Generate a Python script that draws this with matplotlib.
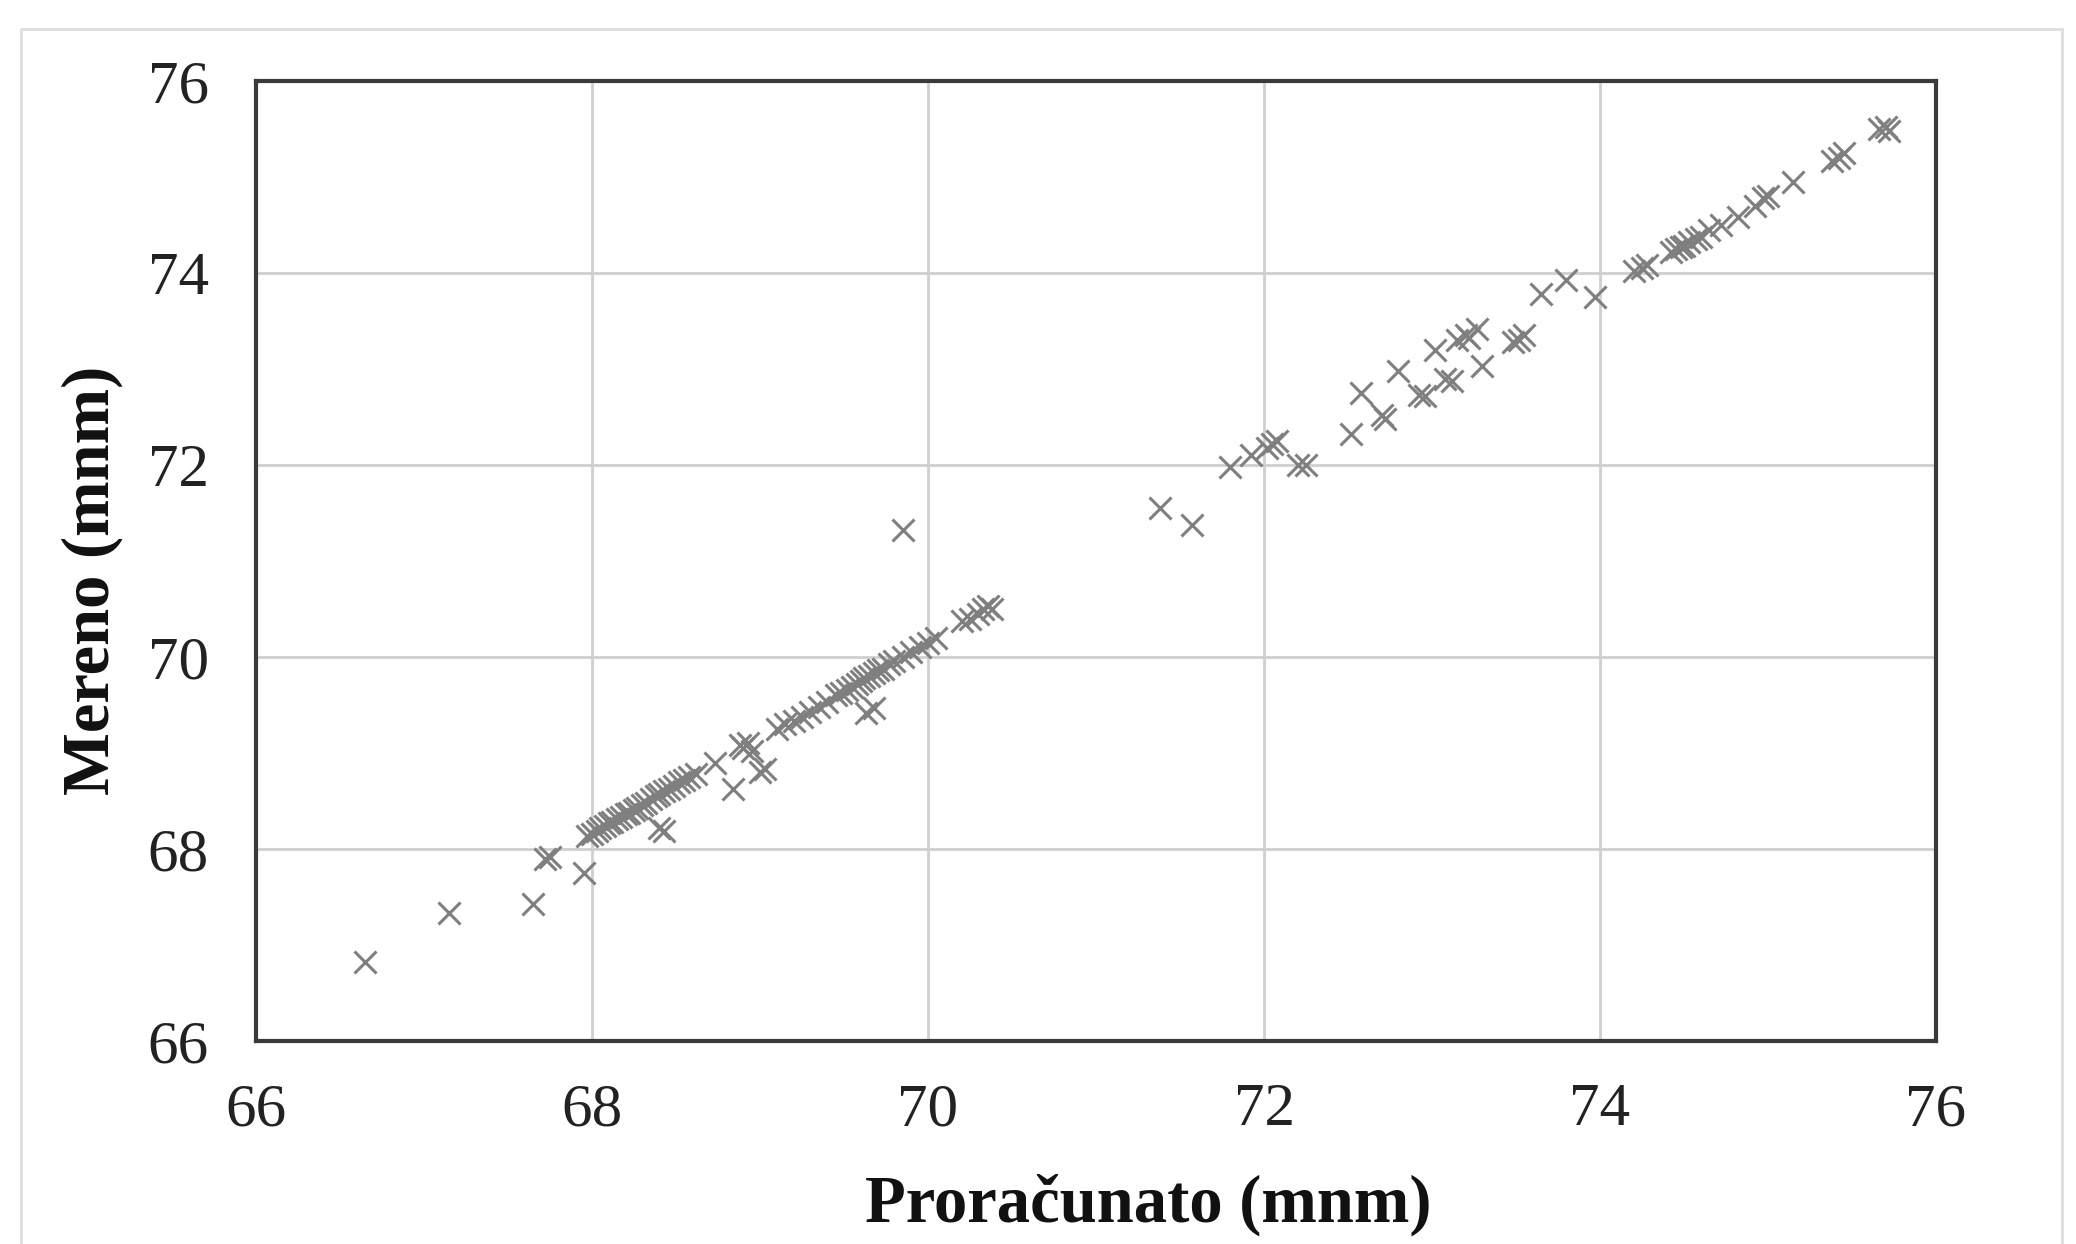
import matplotlib
matplotlib.use("Agg")
import matplotlib.pyplot as plt
from matplotlib.patches import Rectangle

calc_low = [66.65, 67.15, 67.65, 67.72, 67.75, 67.95]
meas_low = [66.82, 67.33, 67.43, 67.90, 67.92, 67.75]

calc_a = [67.97, 68.00, 68.03, 68.05, 68.08, 68.10, 68.12, 68.15, 68.17, 68.20,
          68.22, 68.25, 68.27, 68.30, 68.32, 68.35, 68.38, 68.40, 68.43, 68.46,
          68.49, 68.52, 68.55, 68.58, 68.62, 68.40, 68.43, 68.73, 68.84, 68.88,
          68.90, 68.93, 68.95, 69.00, 69.03]
meas_a = [68.14, 68.16, 68.19, 68.22, 68.24, 68.27, 68.28, 68.31, 68.33, 68.36,
          68.38, 68.41, 68.43, 68.46, 68.48, 68.52, 68.55, 68.57, 68.60, 68.63,
          68.66, 68.70, 68.72, 68.75, 68.78, 68.22, 68.19, 68.90, 68.63, 69.08,
          69.05, 69.10, 69.02, 68.80, 68.83]

calc_b = [69.10, 69.15, 69.20, 69.25, 69.30, 69.35, 69.40, 69.45, 69.48, 69.52,
          69.55, 69.58, 69.60, 69.62, 69.65, 69.68, 69.70, 69.73, 69.77, 69.80,
          69.85, 69.90, 69.95, 70.00, 70.05, 70.20, 70.25, 70.30, 70.33, 70.36,
          70.38, 69.63, 69.68, 69.85]
meas_b = [69.25, 69.30, 69.33, 69.38, 69.43, 69.48, 69.53, 69.60, 69.63, 69.66,
          69.69, 69.72, 69.75, 69.78, 69.80, 69.83, 69.86, 69.88, 69.93, 69.96,
          70.00, 70.05, 70.10, 70.15, 70.20, 70.37, 70.40, 70.45, 70.50, 70.53,
          70.50, 69.42, 69.47, 71.32]

calc_c = [71.38, 71.57, 71.80, 71.92, 72.02, 72.05, 72.08, 72.20, 72.25, 72.52,
          72.58, 72.70, 72.72, 72.80, 72.92, 72.96, 73.02, 73.08, 73.12, 73.15,
          73.20, 73.22, 73.27, 73.30, 73.48, 73.52, 73.55, 73.65, 73.80, 73.97,
          74.20, 74.25, 74.28, 74.42, 74.45, 74.48, 74.50, 74.53, 74.57, 74.60,
          74.65, 74.72, 74.82, 74.92, 74.97, 75.00, 75.15, 75.38, 75.42, 75.45,
          75.66, 75.70, 75.72]
meas_c = [71.55, 71.37, 71.98, 72.10, 72.18, 72.22, 72.25, 72.00, 72.00, 72.32,
          72.75, 72.52, 72.48, 72.98, 72.73, 72.72, 73.20, 72.90, 72.88, 73.30,
          73.35, 73.32, 73.42, 73.03, 73.28, 73.30, 73.35, 73.78, 73.93, 73.75,
          74.02, 74.05, 74.08, 74.22, 74.25, 74.27, 74.28, 74.32, 74.35, 74.38,
          74.45, 74.50, 74.58, 74.70, 74.78, 74.80, 74.95, 75.17, 75.20, 75.25,
          75.50, 75.52, 75.48]

ticks = [66, 68, 70, 72, 74, 76]
xlabel = "Proračunato (mnm)"
ylabel = "Mereno (mnm)"

plt.rcParams['font.family'] = ['Liberation Serif', 'DejaVu Serif']

fig = plt.figure(figsize=(20.76, 12.44), dpi=100)
fig.patches.append(Rectangle((21 / 2076, -0.1), (2062 - 21) / 2076, 1.1 - 29 / 1244,
                             transform=fig.transFigure, fill=False,
                             edgecolor='#dedede', linewidth=2, zorder=0))
ax = fig.add_axes([256 / 2076, 1 - 1041 / 1244, (1936 - 256) / 2076, (1041 - 81) / 1244])

x_all = calc_low + calc_a + calc_b + calc_c
y_all = meas_low + meas_a + meas_b + meas_c
ax.plot(x_all, y_all, linestyle='none', marker='x', markersize=16,
        markeredgewidth=2.2, color='#7f7f7f', zorder=3)

ax.set_xlim(66, 76)
ax.set_ylim(66, 76)
ax.set_xticks(ticks)
ax.set_yticks(ticks)
ax.set_xticklabels([str(t) for t in ticks])
ax.set_yticklabels([str(t) for t in ticks])
ax.grid(True, color='#cfcfcf', linewidth=2, zorder=0)
ax.set_axisbelow(True)
for s in ax.spines.values():
    s.set_color('#3a3a3a')
    s.set_linewidth(3)
ax.tick_params(length=0, labelsize=44, colors='#222222')
ax.tick_params(axis='y', pad=34)
ax.tick_params(axis='x', pad=30)
ax.set_xlabel(xlabel, fontsize=48, fontweight='bold', color='#111111')
ax.set_ylabel(ylabel, fontsize=48, fontweight='bold', color='#111111')
ax.xaxis.set_label_coords(0.531, -0.138)
ax.yaxis.set_label_coords(-0.079, 0.48)

fig.savefig("out.png", dpi=100)
